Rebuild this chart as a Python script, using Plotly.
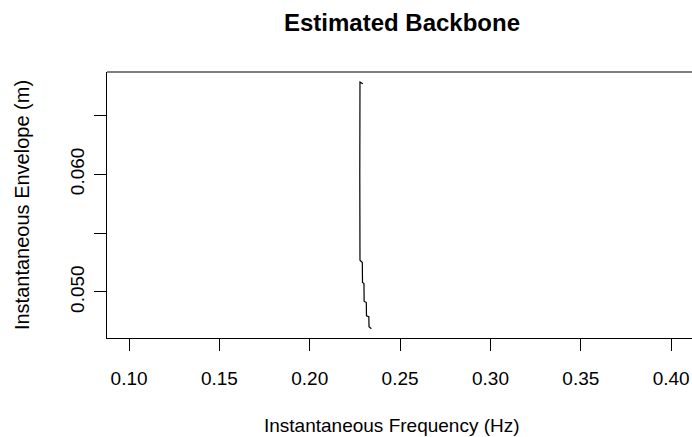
import plotly.graph_objects as go

# Estimated backbone
freq = [0.2294, 0.2278, 0.2277, 0.2278, 0.2291, 0.2292, 0.2300, 0.2301, 0.2313, 0.2314, 0.2327, 0.2328, 0.2341]
env = [0.06768, 0.06782, 0.0600, 0.05269, 0.05250, 0.05080, 0.05071, 0.04921, 0.04910, 0.04798, 0.04790, 0.04705, 0.04688]

x_ticks = [0.10, 0.15, 0.20, 0.25, 0.30, 0.35, 0.40]
x_tick_text = ["0.10", "0.15", "0.20", "0.25", "0.30", "0.35", "0.40"]
y_ticks = [0.050, 0.055, 0.060, 0.065]
y_tick_text = ["0.050", "", "0.060", ""]

FONT = "Liberation Sans, Arial, sans-serif"

fig = go.Figure()
fig.add_trace(go.Scatter(x=freq, y=env, mode="lines",
                         line=dict(color="black", width=1.2), showlegend=False))

fig.update_layout(
    width=692, height=437,
    margin=dict(l=107, r=0, t=72, b=99),
    paper_bgcolor="white", plot_bgcolor="white",
    font=dict(family=FONT, size=19, color="black"),
    title=dict(text="<b>Estimated Backbone</b>", x=402 / 692, xanchor="center",
               y=1 - 23 / 437, yanchor="middle", font=dict(size=24, family=FONT)),
    xaxis=dict(range=[0.0878, 0.0878 + 585 / 1807], tickvals=x_ticks, ticktext=x_tick_text,
               showgrid=False, zeroline=False, showline=True, linecolor="black", linewidth=1.2,
               ticks="outside", ticklen=12, tickcolor="black", tickwidth=1.2,
               ticklabelstandoff=11),
    yaxis=dict(range=[0.04609, 0.06868], tickvals=y_ticks, ticktext=y_tick_text,
               showgrid=False, zeroline=False, showline=True, linecolor="black", linewidth=1.2,
               ticks="outside", ticklen=12, tickcolor="black", tickwidth=1.2,
               tickangle=-90, ticklabelstandoff=2,
               title=dict(text="Instantaneous Envelope (m)", standoff=32,
                          font=dict(size=20, family=FONT))),
    annotations=[dict(text="Instantaneous Frequency (Hz)", xref="paper", yref="paper",
                      x=(392 - 107) / 585, y=-(425 - 338) / 266, xanchor="center",
                      yanchor="middle", showarrow=False, font=dict(size=19, family=FONT))],
    shapes=[dict(type="line", xref="paper", yref="paper", x0=0, x1=1, y0=1, y1=1,
                 line=dict(color="black", width=1.2))],
)

fig.write_html("out.html")
